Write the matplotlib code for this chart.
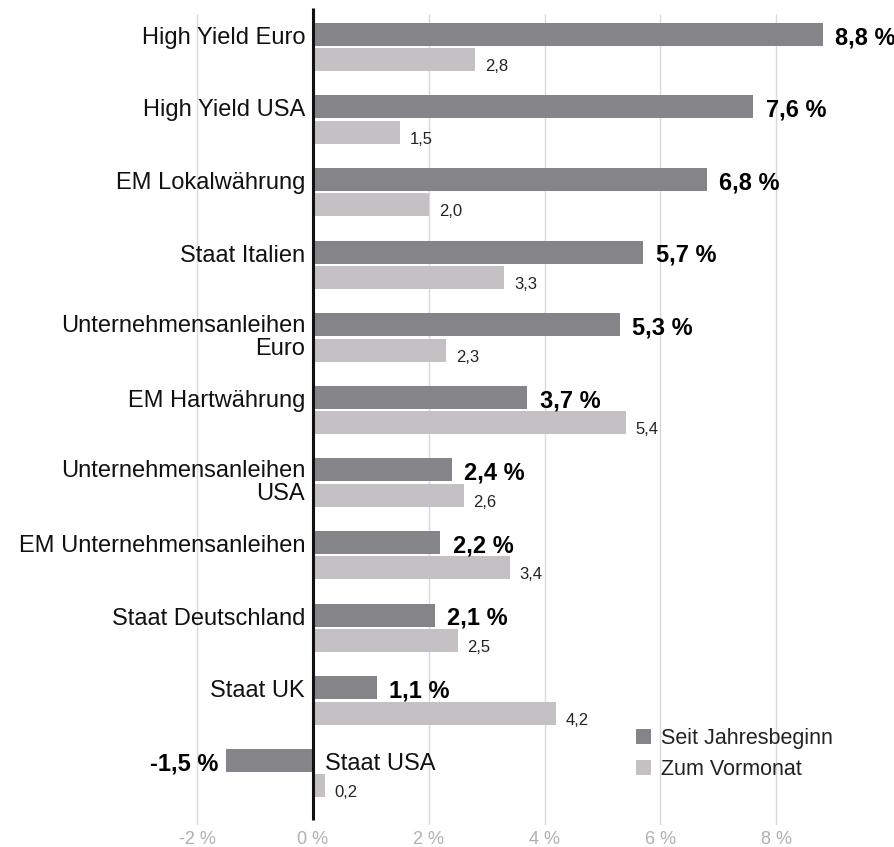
import matplotlib
matplotlib.use("Agg")
import matplotlib.pyplot as plt
from matplotlib.patches import Patch

plt.rcParams['font.family'] = ['Liberation Sans', 'DejaVu Sans']

categories = ["High Yield Euro", "High Yield USA", "EM Lokalwährung", "Staat Italien",
              "Unternehmensanleihen\nEuro", "EM Hartwährung", "Unternehmensanleihen\nUSA",
              "EM Unternehmensanleihen", "Staat Deutschland", "Staat UK", "Staat USA"]
ytd = [8.8, 7.6, 6.8, 5.7, 5.3, 3.7, 2.4, 2.2, 2.1, 1.1, -1.5]
mom = [2.8, 1.5, 2.0, 3.3, 2.3, 5.4, 2.6, 3.4, 2.5, 4.2, 0.2]
series_names = ["Seit Jahresbeginn", "Zum Vormonat"]
xticks = [-2, 0, 2, 4, 6, 8]

DARK = "#858489"
LIGHT = "#c4c0c4"

W, H = 894, 847
fig = plt.figure(figsize=(W / 100, H / 100), dpi=100)
ax = fig.add_axes([0, 22 / H, 1, 825 / H])

ppu_x = 57.9
ax.set_xlim(-313 / ppu_x, (W - 313) / ppu_x)
ppu_y = 72.6
ax.set_ylim((825 - 47) / ppu_y, -47 / ppu_y)

off = 0.175
bh = 0.317
ypos = list(range(len(categories)))
ax.barh([y - off for y in ypos], ytd, height=bh, color=DARK, zorder=2)
ax.barh([y + off for y in ypos], mom, height=bh, color=LIGHT, zorder=2)

# gridlines and zero line
ax.vlines([t for t in xticks if t != 0], -33 / ppu_y, (825 - 47) / ppu_y,
          color="#d9d9d9", lw=1, zorder=0)
ax.vlines(0, -39 / ppu_y, (820 - 47) / ppu_y, color="#111111", lw=2.2, zorder=3)

def fmt(v):
    return f"{v:.1f}".replace(".", ",")

for y, cat, a, b in zip(ypos, categories, ytd, mom):
    lines = cat.split("\n")
    if a < 0:
        ax.text(0.207, y - 0.045, cat, ha="left", va="baseline", fontsize=17, color="#111111")
    elif len(lines) == 1:
        ax.text(-0.138, y - 0.045, cat, ha="right", va="baseline", fontsize=17, color="#111111")
    else:
        ax.text(-0.138, y - 0.074, lines[0], ha="right", va="baseline", fontsize=17, color="#111111")
        ax.text(-0.138, y + 0.242, lines[1], ha="right", va="baseline", fontsize=17, color="#111111")
    # bold ytd label
    if a >= 0:
        ax.text(a + 0.216, y - 0.041, fmt(a) + " %", ha="left", va="baseline",
                fontsize=17, fontweight="bold", color="#000000")
    else:
        ax.text(a - 0.14, y - 0.041, fmt(a) + " %", ha="right", va="baseline",
                fontsize=17, fontweight="bold", color="#000000")
    ax.text(b + 0.17, y + off + 0.158, fmt(b), ha="left", va="baseline",
            fontsize=12, color="#222222")

ax.set_xticks(xticks)
ax.set_xticklabels([f"{t} %" for t in xticks])
ax.tick_params(axis="x", length=0, pad=4.3, labelsize=13, labelcolor="#b0b0b0")
ax.set_yticks([])
for s in ax.spines.values():
    s.set_visible(False)

handles = [Patch(facecolor=DARK, edgecolor="none"), Patch(facecolor=LIGHT, edgecolor="none")]
leg = ax.legend(handles, series_names, loc="upper left",
                bbox_to_anchor=(636 / W, 1 - 728 / H), bbox_transform=fig.transFigure,
                frameon=False, fontsize=15.5, handlelength=0.7, handleheight=0.7,
                handletextpad=0.45, labelspacing=0.45, borderpad=0, borderaxespad=0)
for t in leg.get_texts():
    t.set_color("#222222")

fig.savefig("out.png", dpi=100)
